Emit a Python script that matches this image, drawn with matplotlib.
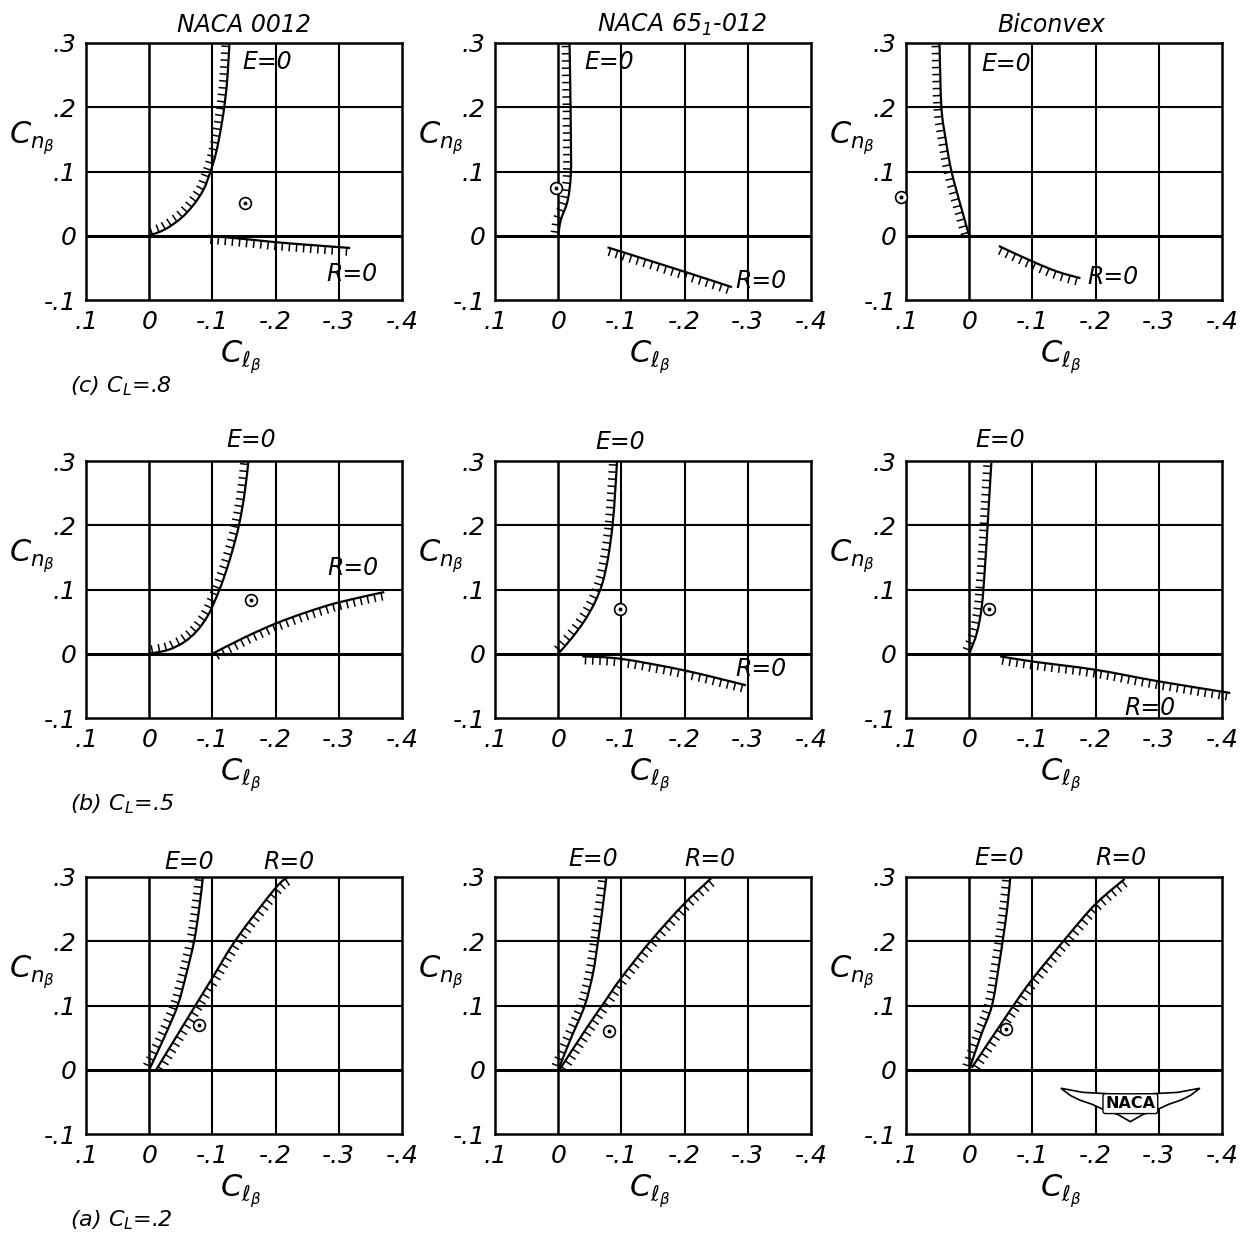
import numpy as np
import matplotlib.pyplot as plt
from matplotlib import patheffects
from matplotlib.patches import Polygon, PathPatch
from matplotlib.path import Path

plt.rcParams['font.family'] = 'DejaVu Sans'
plt.rcParams['font.style'] = 'oblique'
plt.rcParams['mathtext.fontset'] = 'dejavusans'

# axes scales (Cl_beta runs from .1 down to -.4)
x_ticks = [0.1, 0.0, -0.1, -0.2, -0.3, -0.4]
x_tick_labels = ['.1', '0', '-.1', '-.2', '-.3', '-.4']
y_ticks = [-0.1, 0.0, 0.1, 0.2, 0.3]
y_tick_labels = ['-.1', '0', '.1', '.2', '.3']

sections = ['NACA 0012', 'NACA 65$_1$-012', 'Biconvex']
lift_labels = ['(c) $C_L$=.8', '(b) $C_L$=.5', '(a) $C_L$=.2']

# E=0 boundaries, C_L = .8  (0012, 65_1-012, biconvex)
e_cl8_x = [[0, -0.025, -0.05, -0.07, -0.086, -0.097, -0.106, -0.114, -0.12, -0.124, -0.127],
           [0, -0.004, -0.015, -0.02, -0.02, -0.019, -0.018],
           [0, 0.013, 0.028, 0.037, 0.044, 0.047]]
e_cl8_y = [[0, 0.01, 0.027, 0.048, 0.072, 0.1, 0.13, 0.17, 0.21, 0.25, 0.3],
           [0, 0.024, 0.055, 0.096, 0.159, 0.236, 0.3],
           [0, 0.045, 0.1, 0.149, 0.2, 0.3]]
# R=0 boundaries, C_L = .8
r_cl8_x = [[-0.093, -0.15, -0.2, -0.25, -0.318],
           [-0.078, -0.2, -0.275],
           [-0.047, -0.1, -0.14, -0.176]]
r_cl8_y = [[0.0, -0.005, -0.010, -0.014, -0.019],
           [-0.018, -0.056, -0.080],
           [-0.016, -0.040, -0.056, -0.066]]
# test points, C_L = .8
pt_cl8 = [(-0.151, 0.051), (0.004, 0.074), (0.108, 0.06)]

# C_L = .5
e_cl5_x = [[0, -0.03, -0.055, -0.075, -0.092, -0.105, -0.117, -0.13, -0.142, -0.151, -0.157],
           [0, -0.022, -0.042, -0.058, -0.07, -0.079, -0.086, -0.09, -0.093],
           [0, -0.012, -0.02, -0.025, -0.029, -0.035]]
e_cl5_y = [[0, 0.006, 0.018, 0.035, 0.058, 0.085, 0.115, 0.155, 0.2, 0.25, 0.3],
           [0, 0.025, 0.052, 0.08, 0.11, 0.15, 0.2, 0.25, 0.299],
           [0, 0.032, 0.074, 0.136, 0.198, 0.297]]
r_cl5_x = [[-0.1, -0.15, -0.2, -0.25, -0.3, -0.372],
           [-0.038, -0.1, -0.2, -0.297],
           [-0.049, -0.1, -0.2, -0.3, -0.413]]
r_cl5_y = [[0.0, 0.025, 0.047, 0.065, 0.08, 0.096],
           [-0.004, -0.008, -0.026, -0.049],
           [-0.004, -0.012, -0.025, -0.043, -0.061]]
pt_cl5 = [(-0.161, 0.083), (-0.098, 0.069), (-0.032, 0.07)]

# C_L = .2
e_cl2_x = [[0, -0.024, -0.045, -0.059, -0.071, -0.079, -0.085],
           [0, -0.021, -0.042, -0.055, -0.063, -0.07, -0.076],
           [0, -0.018, -0.036, -0.047, -0.053, -0.06, -0.065]]
e_cl2_y = [[0, 0.051, 0.1, 0.15, 0.2, 0.25, 0.3],
           [0, 0.051, 0.1, 0.15, 0.2, 0.25, 0.298],
           [0, 0.052, 0.1, 0.162, 0.201, 0.25, 0.299]]
r_cl2_x = [[-0.011, -0.07, -0.1, -0.139, -0.2, -0.22],
           [-0.002, -0.045, -0.073, -0.099, -0.146, -0.198, -0.242],
           [-0.004, -0.068, -0.1, -0.154, -0.2, -0.246]]
r_cl2_y = [[0.0, 0.095, 0.143, 0.205, 0.283, 0.3],
           [0.0, 0.065, 0.105, 0.142, 0.2, 0.257, 0.298],
           [0.003, 0.097, 0.141, 0.206, 0.258, 0.297]]
pt_cl2 = [(-0.079, 0.07), (-0.081, 0.06), (-0.058, 0.064)]

rows = [(e_cl8_x, e_cl8_y, r_cl8_x, r_cl8_y, pt_cl8),
        (e_cl5_x, e_cl5_y, r_cl5_x, r_cl5_y, pt_cl5),
        (e_cl2_x, e_cl2_y, r_cl2_x, r_cl2_y, pt_cl2)]

# where the E=0 / R=0 names go in each panel (data coords)
e_label_pos = [[(-0.186, 0.27), (-0.08, 0.27), (-0.058, 0.268)],
               [(-0.161, 0.333), (-0.098, 0.33), (-0.049, 0.332)],
               [(-0.063, 0.324), (-0.056, 0.328), (-0.048, 0.33)]]
r_label_pos = [[(-0.32, -0.059), (-0.32, -0.07), (-0.228, -0.064)],
               [(-0.323, 0.133), (-0.32, -0.023), (-0.286, -0.084)],
               [(-0.221, 0.324), (-0.24, 0.328), (-0.24, 0.33)]]


def smooth_path(xs, ys):
    """Catmull-Rom curve through the given points, as cubic Bezier segments."""
    p = np.column_stack([xs, ys]).astype(float)
    if len(p) < 3:
        return Path(p)
    ext = np.vstack([p[0], p, p[-1]])
    verts = [p[0]]
    codes = [Path.MOVETO]
    for i in range(1, len(ext) - 2):
        p0, p1, p2, p3 = ext[i - 1], ext[i], ext[i + 1], ext[i + 2]
        verts += [p1 + (p2 - p0) / 6, p2 - (p3 - p1) / 6, p2]
        codes += [Path.CURVE4] * 3
    return Path(verts, codes)


W, H = 1246, 1239
col_left = [86, 495, 906]
row_top = [43, 461, 877]
pw, ph = 316, 257

fig = plt.figure(figsize=(W / 100, H / 100), dpi=100)

# hatch on the left of E=0 (walking up), on the right of R=0
hatch_e = [patheffects.withTickedStroke(spacing=5, angle=90, length=1.15, linewidth=1.1)]
hatch_r = [patheffects.withTickedStroke(spacing=5, angle=-90, length=1.15, linewidth=1.1)]

for r, (ex, ey, rx, ry, pts) in enumerate(rows):
    for c in range(3):
        ax = fig.add_axes([col_left[c] / W, 1 - (row_top[r] + ph) / H, pw / W, ph / H])
        ax.set_xlim(0.1, -0.4)
        ax.set_ylim(-0.1, 0.3)
        for s in ax.spines.values():
            s.set_linewidth(1.8)
        for xv in x_ticks[1:-1]:
            ax.axvline(xv, color='black', lw=1.5 if xv != 0 else 1.8, zorder=1)
        for yv in y_ticks[1:-1]:
            ax.axhline(yv, color='black', lw=1.5 if yv != 0 else 2.2, zorder=1)
        ax.set_xticks(x_ticks, x_tick_labels)
        ax.set_yticks(y_ticks, y_tick_labels)
        ax.tick_params(length=0, labelsize=18, pad=7)
        for lab in ax.get_xticklabels() + ax.get_yticklabels():
            lab.set_fontstyle('oblique')

        ax.add_patch(PathPatch(smooth_path(ex[c], ey[c]), fill=False, edgecolor='black',
                               lw=1.6, zorder=3, path_effects=hatch_e, clip_on=False))
        ax.add_patch(PathPatch(smooth_path(rx[c], ry[c]), fill=False, edgecolor='black',
                               lw=1.6, zorder=3, path_effects=hatch_r, clip_on=False))

        px, py = pts[c]
        ax.plot(px, py, marker='o', ms=8.5, mfc='white', mec='black', mew=1.2,
                zorder=4, clip_on=False)
        ax.plot(px, py, marker='o', ms=1.8, color='black', zorder=5, clip_on=False)

        ax.text(*e_label_pos[r][c], 'E=0', fontsize=17, ha='center', va='center',
                zorder=6, clip_on=False)
        ax.text(*r_label_pos[r][c], 'R=0', fontsize=17, ha='center', va='center',
                zorder=6, clip_on=False)

        ax.text(-0.17, 0.63, r'$C_{n_\beta}$', transform=ax.transAxes, fontsize=22,
                ha='center', va='center')
        ax.text(0.49, -0.225, r'$C_{\ell_\beta}$', transform=ax.transAxes, fontsize=22,
                ha='center', va='center')

        if r == 0:
            title_x = [0.50, 0.59, 0.46][c]
            ax.text(title_x, 1.07, sections[c], transform=ax.transAxes, fontsize=17,
                    ha='center', va='center')
        if c == 0:
            ax.text(-0.05, -0.335, lift_labels[r], transform=ax.transAxes,
                    fontsize=16, ha='left', va='center')

        if r == 2 and c == 2:
            # NACA wings emblem
            wing = [(0.49, 0.178), (0.56, 0.162), (0.71, 0.152), (0.86, 0.162),
                    (0.93, 0.178), (0.90, 0.150), (0.87, 0.132), (0.83, 0.115),
                    (0.79, 0.092), (0.75, 0.076), (0.71, 0.048), (0.67, 0.076),
                    (0.63, 0.092), (0.59, 0.115), (0.55, 0.132), (0.52, 0.150)]
            ax.add_patch(Polygon(wing, closed=True, transform=ax.transAxes,
                                 facecolor='white', edgecolor='black', lw=1.2, zorder=6))
            ax.text(0.71, 0.118, 'NACA', transform=ax.transAxes, fontsize=11.5,
                    fontweight='bold', fontstyle='normal', ha='center', va='center',
                    zorder=7, bbox=dict(boxstyle='round,pad=0.15', fc='white',
                                        ec='black', lw=1.0))

fig.savefig('out.png', dpi=100)
